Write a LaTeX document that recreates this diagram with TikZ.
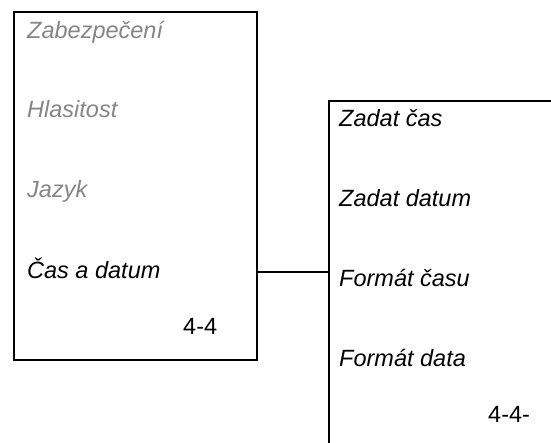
\documentclass[tikz,border=0pt]{standalone}
\usepackage{fontspec}
\setmainfont{Liberation Sans}
\begin{document}
\begin{tikzpicture}[x=1pt,y=1pt,
  frame/.style={line width=1.7pt},
  item/.style={anchor=base west,inner sep=0pt,font=\fontsize{23.5}{27}\selectfont\itshape},
  dim/.style={item,text=black!48},
  pg/.style={anchor=base west,inner sep=0pt,font=\fontsize{23.5}{27}\selectfont}]
\useasboundingbox (0,0) rectangle (551,443);
\clip (0,0) rectangle (551,443);
% left box
\node[frame,draw,minimum width=243pt,minimum height=348pt,inner sep=0pt,anchor=north west] (L) at (13,432) {};
% right box (extends past the page)
\node[frame,draw,minimum width=260pt,minimum height=380pt,inner sep=0pt,anchor=north west] (R) at (328,343) {};
\coordinate (c1) at (L.east |- 0,171);
\coordinate (c2) at (R.west |- 0,171);
\draw[frame] (c1) -- (c2);
% left texts
\node[dim] (t1) at (27,404) {Zabezpečení};
\node[dim] (t2) at (27,325) {Hlasitost};
\node[dim] (t3) at (27,245) {Jazyk};
\node[item] (t4) at (27,164) {Čas a datum};
\node[pg] (p1) at (183,108) {4-4};
% right texts
\node[item] (r1) at (339,316) {Zadat čas};
\node[item] (r2) at (339,236) {Zadat datum};
\node[item] (r3) at (339,156) {Formát času};
\node[item] (r4) at (339,76) {Formát data};
\node[pg] (p2) at (488,20) {4-4-};
\end{tikzpicture}
\end{document}
